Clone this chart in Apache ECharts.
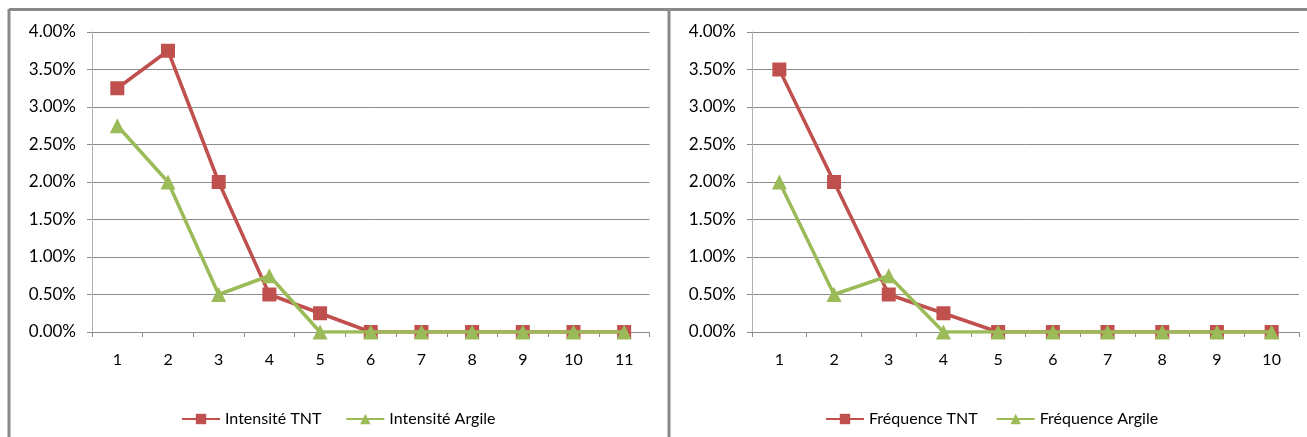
<!DOCTYPE html>
<html><head><meta charset="utf-8">
<script src="https://cdn.jsdelivr.net/npm/echarts@6/dist/echarts.min.js"></script>
<style>html,body{margin:0;padding:0;background:#fff}#c{width:1307px;height:437px}</style>
</head><body><div id="c"></div>
<script>
const catsLeft = ['1','2','3','4','5','6','7','8','9','10','11'];
const catsRight = ['1','2','3','4','5','6','7','8','9','10'];
const intensiteTNT = [3.25, 3.75, 2.0, 0.5, 0.25, 0, 0, 0, 0, 0, 0];
const intensiteArgile = [2.75, 2.0, 0.5, 0.75, 0, 0, 0, 0, 0, 0, 0];
const frequenceTNT = [3.5, 2.0, 0.5, 0.25, 0, 0, 0, 0, 0, 0];
const frequenceArgile = [2.0, 0.5, 0.75, 0, 0, 0, 0, 0, 0, 0];
const yTicks = {min: 0, max: 4, interval: 0.5};

const RED = '#C0504D', GREEN = '#9BBB59', GRID = '#8c8c8c', FONT = 'Lato';
const chart = echarts.init(document.getElementById('c'), null, {renderer: 'canvas'});

function xAx(cats, gi) {
  return {type: 'category', gridIndex: gi, data: cats, boundaryGap: true,
    axisLine: {lineStyle: {color: GRID, width: 1}},
    axisTick: {show: true, length: 5, inside: false, lineStyle: {color: GRID}},
    axisLabel: {color: '#000', fontFamily: FONT, fontSize: 16, margin: 20}};
}
function yAx(gi) {
  return {type: 'value', gridIndex: gi, min: yTicks.min, max: yTicks.max, interval: yTicks.interval,
    axisLine: {show: true, lineStyle: {color: '#b0b0b0', width: 1}},
    axisTick: {show: true, length: 5, lineStyle: {color: GRID}},
    splitLine: {lineStyle: {color: GRID, width: 1}},
    axisLabel: {color: '#000', fontFamily: FONT, fontSize: 17, margin: 16,
      formatter: v => v.toFixed(2) + '%'}};
}
function ser(name, data, gi, color, symbol) {
  return {name, type: 'line', xAxisIndex: gi, yAxisIndex: gi, data,
    symbol, symbolSize: symbol === 'rect' ? 14 : 15, showSymbol: true,
    lineStyle: {color, width: 3.5}, itemStyle: {color},
    animation: false, z: symbol === 'rect' ? 2 : 3};
}
const legendText = {color: '#000', fontFamily: FONT, fontSize: 16};
chart.setOption({
  animation: false,
  grid: [
    {left: 92, right: 657.5, top: 32, height: 300},
    {left: 752, right: 8, top: 32, height: 300}
  ],
  xAxis: [xAx(catsLeft, 0), xAx(catsRight, 1)],
  yAxis: [yAx(0), yAx(1)],
  legend: [
    {data: ['Intensité TNT', 'Intensité Argile'], left: 176, top: 406, itemWidth: 38, itemHeight: 13, itemGap: 24, textStyle: legendText},
    {data: ['Fréquence TNT', 'Fréquence Argile'], left: 820, top: 406, itemWidth: 38, itemHeight: 13, itemGap: 18, textStyle: legendText}
  ],
  series: [
    ser('Intensité TNT', intensiteTNT, 0, RED, 'rect'),
    ser('Intensité Argile', intensiteArgile, 0, GREEN, 'triangle'),
    ser('Fréquence TNT', frequenceTNT, 1, RED, 'rect'),
    ser('Fréquence Argile', frequenceArgile, 1, GREEN, 'triangle')
  ],
  graphic: [
    {type: 'line', shape: {x1: 9, y1: 9.5, x2: 1307, y2: 9.5}, style: {stroke: '#8a8a8a', lineWidth: 3}},
    {type: 'line', shape: {x1: 9, y1: 9, x2: 9, y2: 437}, style: {stroke: '#8a8a8a', lineWidth: 3}},
    {type: 'line', shape: {x1: 669, y1: 9, x2: 669, y2: 437}, style: {stroke: '#8a8a8a', lineWidth: 3}}
  ]
});
</script></body></html>
